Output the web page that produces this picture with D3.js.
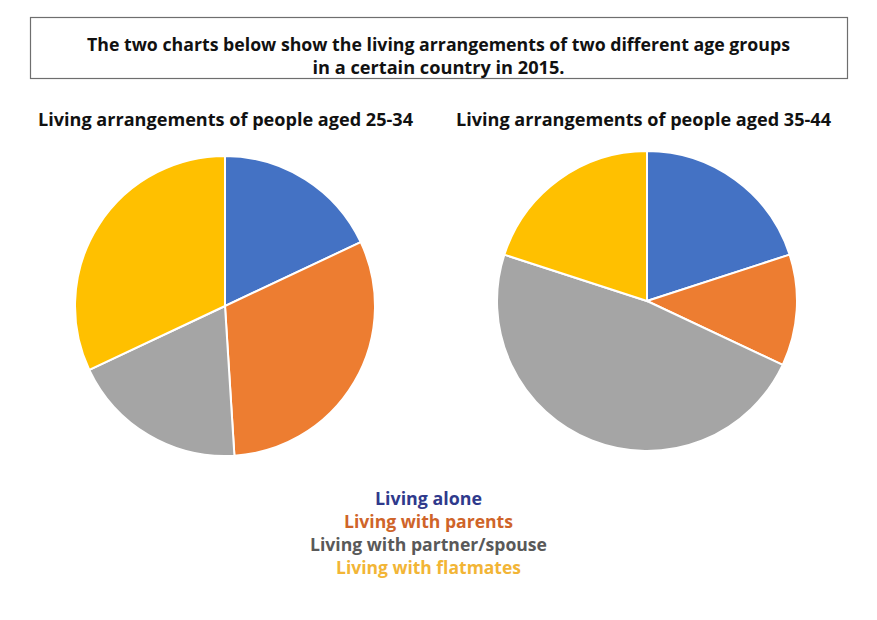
<!DOCTYPE html>
<html><head><meta charset="utf-8">
<script src="https://cdn.jsdelivr.net/npm/d3@7"></script>
<style>body{margin:0;background:#fff}svg{display:block}text{font-family:"Open Sans",sans-serif;font-weight:700}</style>
</head><body>
<script>
const categories = ["Living alone","Living with parents","Living with partner/spouse","Living with flatmates"];
const aged25_34 = [18, 31, 19, 32];
const aged35_44 = [20, 12, 48, 20];
const chartTitles = ["Living arrangements of people aged 25-34","Living arrangements of people aged 35-44"];
const titleLines = ["The two charts below show the living arrangements of two different age groups","in a certain country in 2015."];
const sliceColors = ["#4472c4","#ed7d31","#a5a5a5","#ffc000"];
const legendColors = ["#2f3a8c","#cf6429","#595959","#f2b536"];

const W=877,H=620;
const svg=d3.select("body").append("svg").attr("width",W).attr("height",H);

svg.append("rect").attr("x",30.5).attr("y",17.5).attr("width",817).attr("height",61)
  .attr("fill","#fff").attr("stroke","#6e6e6e").attr("stroke-width",1.2);
const tl=[{y:50.5,w:703},{y:73.5,w:252}];
titleLines.forEach((t,i)=>svg.append("text").attr("x",438.5).attr("y",tl[i].y).attr("text-anchor","middle")
  .attr("font-size",18).attr("fill","#111").attr("textLength",tl[i].w).attr("lengthAdjust","spacingAndGlyphs").text(t));

const pies=[{data:aged25_34,cx:225,cy:306,tx:225.5},{data:aged35_44,cx:647,cy:301,tx:643.5}];
const pie=d3.pie().sort(null).value(d=>d);
const arc=d3.arc().innerRadius(0).outerRadius(150);
pies.forEach((p,i)=>{
  svg.append("text").attr("x",p.tx).attr("y",126).attr("text-anchor","middle").attr("font-size",17.5)
    .attr("fill","#111").attr("textLength",375).attr("lengthAdjust","spacingAndGlyphs").text(chartTitles[i]);
  const g=svg.append("g").attr("transform",`translate(${p.cx},${p.cy})`);
  g.selectAll("path").data(pie(p.data)).join("path").attr("d",arc)
    .attr("fill",(d,j)=>sliceColors[j]).attr("stroke","#fff").attr("stroke-width",2);
});

const lw=[107,169,237,185];
categories.forEach((c,i)=>svg.append("text").attr("x",428.5).attr("y",504.5+i*23).attr("text-anchor","middle")
  .attr("font-size",18).attr("fill",legendColors[i]).attr("textLength",lw[i]).attr("lengthAdjust","spacingAndGlyphs").text(c));
</script>
</body></html>
